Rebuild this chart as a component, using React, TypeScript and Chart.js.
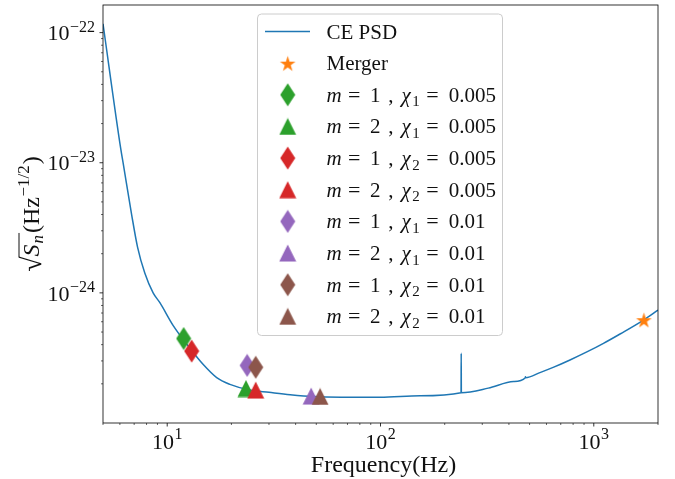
import React, { useEffect, useRef } from "react";
import { Chart, registerables } from "chart.js";

Chart.register(...registerables);

// ---------- data ----------
const psdFreq = [5, 6.06, 6.21, 6.81, 7.26, 7.85, 8.59, 9.24, 10.67, 12.78, 14.76, 17.06, 19.68, 24.4, 30, 37.7, 48.4, 99.7, 153.5, 238.6, 239, 239.4, 320, 421, 477.7, 478, 478.3, 563, 649, 778, 933, 1110, 1334, 1718, 2000];
const psdAsd = [1.17e-22, 1.27e-23, 1.0e-23, 4.0e-24, 2.25e-24, 1.42e-24, 1.0e-24, 8.4e-25, 5.6e-25, 3.75e-25, 2.81e-25, 2.23e-25, 1.98e-25, 1.79e-25, 1.72e-25, 1.65e-25, 1.6e-25, 1.575e-25, 1.62e-25, 1.71e-25, 3.43e-25, 1.71e-25, 1.853e-25, 2.083e-25, 2.228e-25, 2.27e-25, 2.229e-25, 2.451e-25, 2.687e-25, 3.065e-25, 3.533e-25, 4.095e-25, 4.853e-25, 6.208e-25, 7.37e-25];

const mergerFreq = [1718];
const mergerAsd = [6.22e-25];

const modeM = [1, 2, 1, 2, 1, 2, 1, 2];
const chiIndex = [1, 1, 2, 2, 1, 1, 2, 2];
const chiValue = ["0.005", "0.005", "0.005", "0.005", "0.01", "0.01", "0.01", "0.01"];
const modeFreq = [11.94, 23.4, 13.02, 26.0, 23.7, 47.3, 26.0, 52.1];
const modeAsd = [4.46e-25, 1.84e-25, 3.57e-25, 1.79e-25, 2.77e-25, 1.61e-25, 2.68e-25, 1.6e-25];
const modeColors = ["#2ca02c", "#2ca02c", "#d62728", "#d62728", "#9467bd", "#9467bd", "#8c564b", "#8c564b"];

const xTickExps = [1, 2, 3];
const yTickExps = [-22, -23, -24];
const xRange = [5, 2000];
const yRange = [1.125e-25, 1.63e-22];

const xTitle = "Frequency(Hz)";
const psdLabel = "CE PSD";
const mergerLabel = "Merger";

const SERIF = "'Liberation Serif', 'DejaVu Serif', serif";
const MINUS = "\u2212";

// ---------- marker images ----------
function makeMarker(shape: string, color: string): HTMLCanvasElement {
  const c = document.createElement("canvas");
  let w = 16, h = 24;
  if (shape === "triangle") { w = 18; h = 18; }
  if (shape === "star") { w = 17; h = 17; }
  c.width = w; c.height = h;
  const ctx = c.getContext("2d")!;
  ctx.fillStyle = color;
  ctx.beginPath();
  if (shape === "diamond") {
    ctx.moveTo(w / 2, 0.5);
    ctx.lineTo(w - 0.5, h / 2);
    ctx.lineTo(w / 2, h - 0.5);
    ctx.lineTo(0.5, h / 2);
  } else if (shape === "triangle") {
    ctx.moveTo(w / 2, 0.5);
    ctx.lineTo(w - 0.5, h - 0.5);
    ctx.lineTo(0.5, h - 0.5);
  } else {
    const R = w / 2 - 0.3, r = R * 0.382;
    for (let i = 0; i < 10; i++) {
      const ang = -Math.PI / 2 + (i * Math.PI) / 5;
      const rr = i % 2 === 0 ? R : r;
      const px = w / 2 + rr * Math.cos(ang);
      const py = h / 2 + 1 + rr * Math.sin(ang);
      if (i === 0) ctx.moveTo(px, py); else ctx.lineTo(px, py);
    }
  }
  ctx.closePath();
  ctx.fill();
  return c;
}

type Piece = { t: string; font: string; dy?: number; gap?: number };

function measurePieces(ctx: CanvasRenderingContext2D, pieces: Piece[]) {
  return pieces.map((p) => { ctx.font = p.font; return ctx.measureText(p.t).width + (p.gap || 0); });
}

function drawRich(ctx: CanvasRenderingContext2D, pieces: Piece[], x: number, y: number, align: string) {
  const widths = measurePieces(ctx, pieces);
  const total = widths.reduce((a, b) => a + b, 0);
  let cx = x;
  if (align === "center") cx = x - total / 2;
  if (align === "right") cx = x - total;
  ctx.textAlign = "left";
  ctx.textBaseline = "alphabetic";
  pieces.forEach((p, i) => {
    ctx.font = p.font;
    ctx.fillText(p.t, cx, y + (p.dy || 0));
    cx += widths[i];
  });
  return total;
}

export default function App() {
  const ref = useRef<HTMLCanvasElement | null>(null);

  useEffect(() => {
    if (!ref.current) return;
    const diamondImgs = modeColors.map((c) => makeMarker("diamond", c));
    const triImgs = modeColors.map((c) => makeMarker("triangle", c));
    const starImg = makeMarker("star", "#ff7f0e");
    const modeImgs = modeM.map((m, i) => (m === 1 ? diamondImgs[i] : triImgs[i]));

    const datasets: any[] = [
      {
        label: psdLabel,
        data: psdFreq.map((f, i) => ({ x: f, y: psdAsd[i] })),
        showLine: true,
        borderColor: "#1f77b4",
        borderWidth: 1.5,
        pointRadius: 0,
        cubicInterpolationMode: "monotone",
        order: 100,
      },
      {
        label: mergerLabel,
        data: mergerFreq.map((f, i) => ({ x: f, y: mergerAsd[i] })),
        pointStyle: starImg,
        order: 90,
      },
    ];
    modeFreq.forEach((f, i) => {
      datasets.push({
        label: `m=${modeM[i]}, chi${chiIndex[i]}=${chiValue[i]}`,
        data: [{ x: f, y: modeAsd[i] }],
        pointStyle: modeImgs[i],
        order: 80 - i,
      });
    });

    const framePlugin = {
      id: "mplFrame",
      afterDraw(chart: any) {
        const { ctx, chartArea: a, scales } = chart;
        const xs = scales.x, ys = scales.y;
        ctx.save();
        // spines
        ctx.strokeStyle = "#000";
        ctx.lineWidth = 0.8;
        ctx.strokeRect(a.left, a.top, a.right - a.left, a.bottom - a.top);
        // y ticks
        for (let e = -26; e <= -21; e++) {
          for (let k = 1; k <= 9; k++) {
            const v = k * Math.pow(10, e);
            if (v < yRange[0] || v > yRange[1]) continue;
            const py = ys.getPixelForValue(v);
            const len = k === 1 ? 3.5 : 2;
            ctx.lineWidth = k === 1 ? 0.8 : 0.6;
            ctx.beginPath();
            ctx.moveTo(a.left, py);
            ctx.lineTo(a.left - len, py);
            ctx.stroke();
          }
        }
        // x ticks
        for (let e = 0; e <= 3; e++) {
          for (let k = 1; k <= 9; k++) {
            const v = k * Math.pow(10, e);
            if (v < xRange[0] || v > xRange[1]) continue;
            const px = xs.getPixelForValue(v);
            const len = k === 1 ? 3.5 : 2;
            ctx.lineWidth = k === 1 ? 0.8 : 0.6;
            ctx.beginPath();
            ctx.moveTo(px, a.bottom);
            ctx.lineTo(px, a.bottom + len);
            ctx.stroke();
          }
        }
        ctx.fillStyle = "#111";
        // y tick labels
        yTickExps.forEach((e) => {
          const py = ys.getPixelForValue(Math.pow(10, e));
          drawRich(ctx, [
            { t: "10", font: `22px ${SERIF}`, gap: 0.5 },
            { t: MINUS + Math.abs(e), font: `16px ${SERIF}`, dy: -8.5 },
          ], a.left - 8, py + 7.7, "right");
        });
        // x tick labels
        xTickExps.forEach((e) => {
          const px = xs.getPixelForValue(Math.pow(10, e));
          drawRich(ctx, [
            { t: "10", font: `22px ${SERIF}`, gap: 0.5 },
            { t: String(e), font: `16px ${SERIF}`, dy: -10 },
          ], px, a.bottom + 25.5, "center");
        });
        // x title
        ctx.font = `24px ${SERIF}`;
        ctx.textAlign = "center";
        ctx.textBaseline = "alphabetic";
        ctx.fillText(xTitle, (a.left + a.right) / 2 + 3, 471.5);
        // y title (rotated)
        ctx.save();
        ctx.translate(38.5, 214);
        ctx.rotate(-Math.PI / 2);
        const yPieces: Piece[] = [
          { t: "\u221A", font: `28px ${SERIF}`, dy: 2, gap: 0 },
          { t: "S", font: `italic 24px ${SERIF}`, gap: 1 },
          { t: "n", font: `italic 17px ${SERIF}`, dy: 4.5, gap: 2 },
          { t: "(Hz", font: `24px ${SERIF}`, gap: 0.5 },
          { t: MINUS + "1/2", font: `17px ${SERIF}`, dy: -10, gap: 1 },
          { t: ")", font: `24px ${SERIF}` },
        ];
        const ws = measurePieces(ctx, yPieces);
        const tot = ws.reduce((s, w) => s + w, 0);
        drawRich(ctx, yPieces, 0, 0, "center");
        const ovStart = -tot / 2 + ws[0] - 1;
        const ovEnd = ovStart + 1 + ws[1] + ws[2];
        ctx.strokeStyle = "#111";
        ctx.lineWidth = 1;
        ctx.beginPath();
        ctx.moveTo(ovStart, -19.5);
        ctx.lineTo(ovEnd, -19.5);
        ctx.stroke();
        ctx.restore();

        // legend
        const lx = 257.5, ly = 14, lw = 245, lh = 321.5, r = 4;
        ctx.beginPath();
        ctx.moveTo(lx + r, ly);
        ctx.lineTo(lx + lw - r, ly);
        ctx.quadraticCurveTo(lx + lw, ly, lx + lw, ly + r);
        ctx.lineTo(lx + lw, ly + lh - r);
        ctx.quadraticCurveTo(lx + lw, ly + lh, lx + lw - r, ly + lh);
        ctx.lineTo(lx + r, ly + lh);
        ctx.quadraticCurveTo(lx, ly + lh, lx, ly + lh - r);
        ctx.lineTo(lx, ly + r);
        ctx.quadraticCurveTo(lx, ly, lx + r, ly);
        ctx.closePath();
        ctx.fillStyle = "rgba(255,255,255,0.8)";
        ctx.fill();
        ctx.strokeStyle = "#cccccc";
        ctx.lineWidth = 1;
        ctx.stroke();

        const rowY = (i: number) => 31.5 + i * 31.65;
        const hx = 287.7, tx = 326.5;
        ctx.fillStyle = "#111";
        // row 0: line
        ctx.strokeStyle = "#1f77b4";
        ctx.lineWidth = 1.5;
        ctx.beginPath();
        ctx.moveTo(265, rowY(0));
        ctx.lineTo(310, rowY(0));
        ctx.stroke();
        ctx.font = `21px ${SERIF}`;
        ctx.textAlign = "left";
        ctx.textBaseline = "alphabetic";
        ctx.fillText(psdLabel, tx, rowY(0) + 7.5);
        // row 1: merger
        ctx.drawImage(starImg, hx - starImg.width / 2, rowY(1) - starImg.height / 2);
        ctx.font = `21px ${SERIF}`;
        ctx.fillText(mergerLabel, tx, rowY(1) + 7);
        // modes
        modeM.forEach((m, i) => {
          const yy = rowY(i + 2);
          const img = modeImgs[i];
          ctx.drawImage(img, hx - img.width / 2, yy - img.height / 2);
          const b = yy + 7;
          // [text, font, centre offset, baseline shift]
          const parts: [string, string, number, number][] = [
            ["m", `italic 21px ${SERIF}`, 7.7, 0],
            ["=", `22px ${SERIF}`, 27.7, 0],
            [String(m), `21px ${SERIF}`, 48.8, 0],
            [",", `21px ${SERIF}`, 64.3, 0],
            ["\u03C7", `italic 21px ${SERIF}`, 79.5, 0],
            [String(chiIndex[i]), `15px ${SERIF}`, 89.5, 4.5],
            ["=", `22px ${SERIF}`, 106, 0],
          ];
          ctx.textAlign = "center";
          parts.forEach(([t, f, dx, dy]) => {
            ctx.font = f;
            ctx.fillText(t, tx + dx, b + dy);
          });
          ctx.textAlign = "left";
          ctx.font = `21px ${SERIF}`;
          ctx.fillText(chiValue[i], tx + 122.3, b);
        });
        ctx.restore();
      },
    };

    const chart = new Chart(ref.current, {
      type: "scatter",
      data: { datasets },
      options: {
        responsive: false,
        animation: false,
        devicePixelRatio: 1,
        layout: { padding: { left: 103, top: 3, right: 17, bottom: 56 } },
        scales: {
          x: { type: "logarithmic", min: xRange[0], max: xRange[1], display: false },
          y: { type: "logarithmic", min: yRange[0], max: yRange[1], display: false },
        },
        plugins: { legend: { display: false }, tooltip: { enabled: false } },
      },
      plugins: [framePlugin],
    } as any);
    return () => chart.destroy();
  }, []);

  return (
    <div style={{ position: "absolute", left: 0, top: 0, width: 675, height: 479, background: "#fff" }}>
      <canvas ref={ref} width={675} height={479} style={{ display: "block" }} />
    </div>
  );
}
